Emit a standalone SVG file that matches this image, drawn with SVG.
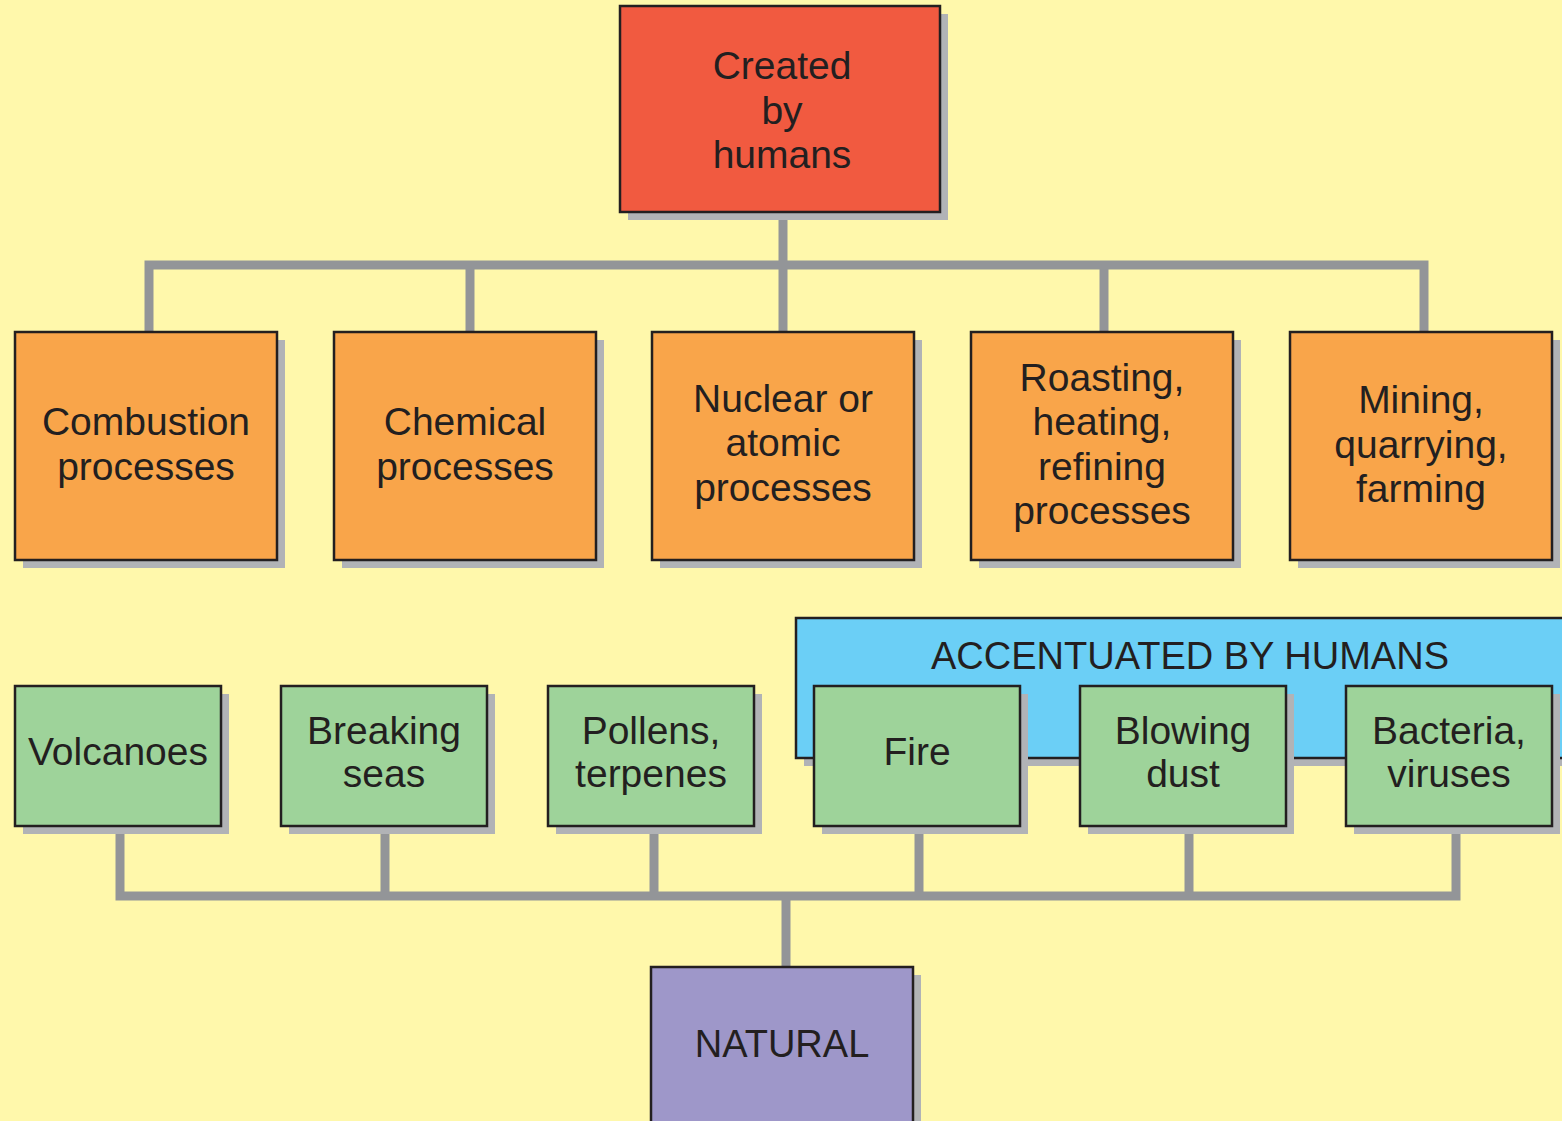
<svg xmlns="http://www.w3.org/2000/svg" width="1562" height="1121" viewBox="0 0 1562 1121">
<defs>
<style>
.bg{fill:#FFF8AB}
.sh{fill:#B1B3B6}
.box{stroke:#231F20;stroke-width:2.5}
.red{fill:#F15A40}
.org{fill:#F9A54A}
.grn{fill:#9ED39A}
.blu{fill:#6BCFF6}
.pur{fill:#9E97C9}
.t{font-family:"Liberation Sans",Arial,sans-serif;font-size:39px;fill:#231F20;text-anchor:middle}
.c{fill:none;stroke:#939598;stroke-width:9;stroke-linecap:square;stroke-linejoin:miter}
</style>
</defs>
<rect class="bg" x="0" y="0" width="1562" height="1121"/>
<g id="connectors">
<path class="c" d="M783 212V265M149 330V265H1424V330M470 265V330M783 265V330M1104 265V330"/>
<path class="c" d="M120 828V896H1456V828M385 828V896M654 828V896M919 828V896M1189 828V896M786 896V965"/>
</g>
<g id="created">
<rect class="sh" x="628" y="14" width="320" height="206"/>
<rect class="box red" x="620" y="6" width="320" height="206"/>
<text class="t" x="782" y="79">Created</text>
<text class="t" x="782" y="124">by</text>
<text class="t" x="782" y="168">humans</text>
</g>
<g id="combustion">
<rect class="sh" x="23" y="340" width="262" height="228"/>
<rect class="box org" x="15" y="332" width="262" height="228"/>
<text class="t" x="146" y="435">Combustion</text>
<text class="t" x="146" y="480">processes</text>
</g>
<g id="chemical">
<rect class="sh" x="342" y="340" width="262" height="228"/>
<rect class="box org" x="334" y="332" width="262" height="228"/>
<text class="t" x="465" y="435">Chemical</text>
<text class="t" x="465" y="480">processes</text>
</g>
<g id="nuclear">
<rect class="sh" x="660" y="340" width="262" height="228"/>
<rect class="box org" x="652" y="332" width="262" height="228"/>
<text class="t" x="783" y="412">Nuclear or</text>
<text class="t" x="783" y="456">atomic</text>
<text class="t" x="783" y="501">processes</text>
</g>
<g id="roasting">
<rect class="sh" x="979" y="340" width="262" height="228"/>
<rect class="box org" x="971" y="332" width="262" height="228"/>
<text class="t" x="1102" y="391">Roasting,</text>
<text class="t" x="1102" y="435">heating,</text>
<text class="t" x="1102" y="480">refining</text>
<text class="t" x="1102" y="524">processes</text>
</g>
<g id="mining">
<rect class="sh" x="1298" y="340" width="262" height="228"/>
<rect class="box org" x="1290" y="332" width="262" height="228"/>
<text class="t" x="1421" y="413">Mining,</text>
<text class="t" x="1421" y="458">quarrying,</text>
<text class="t" x="1421" y="502">farming</text>
</g>
<g id="accentuated">
<rect class="sh" x="804" y="626" width="770" height="140"/>
<rect class="box blu" x="796" y="618" width="780" height="140"/>
<text class="t" x="1190" y="669" style="font-size:38px">ACCENTUATED BY HUMANS</text>
</g>
<g id="volcanoes">
<rect class="sh" x="23" y="694" width="206" height="140"/>
<rect class="box grn" x="15" y="686" width="206" height="140"/>
<text class="t" x="118" y="765">Volcanoes</text>
</g>
<g id="breaking">
<rect class="sh" x="289" y="694" width="206" height="140"/>
<rect class="box grn" x="281" y="686" width="206" height="140"/>
<text class="t" x="384" y="744">Breaking</text>
<text class="t" x="384" y="787">seas</text>
</g>
<g id="pollens">
<rect class="sh" x="556" y="694" width="206" height="140"/>
<rect class="box grn" x="548" y="686" width="206" height="140"/>
<text class="t" x="651" y="744">Pollens,</text>
<text class="t" x="651" y="787">terpenes</text>
</g>
<g id="fire">
<rect class="sh" x="822" y="694" width="206" height="140"/>
<rect class="box grn" x="814" y="686" width="206" height="140"/>
<text class="t" x="917" y="765">Fire</text>
</g>
<g id="blowing">
<rect class="sh" x="1088" y="694" width="206" height="140"/>
<rect class="box grn" x="1080" y="686" width="206" height="140"/>
<text class="t" x="1183" y="744">Blowing</text>
<text class="t" x="1183" y="787">dust</text>
</g>
<g id="bacteria">
<rect class="sh" x="1354" y="694" width="206" height="140"/>
<rect class="box grn" x="1346" y="686" width="206" height="140"/>
<text class="t" x="1449" y="744">Bacteria,</text>
<text class="t" x="1449" y="787">viruses</text>
</g>
<g id="natural">
<rect class="sh" x="659" y="975" width="262" height="160"/>
<rect class="box pur" x="651" y="967" width="262" height="170"/>
<text class="t" x="782" y="1057" style="font-size:38px">NATURAL</text>
</g>
</svg>
